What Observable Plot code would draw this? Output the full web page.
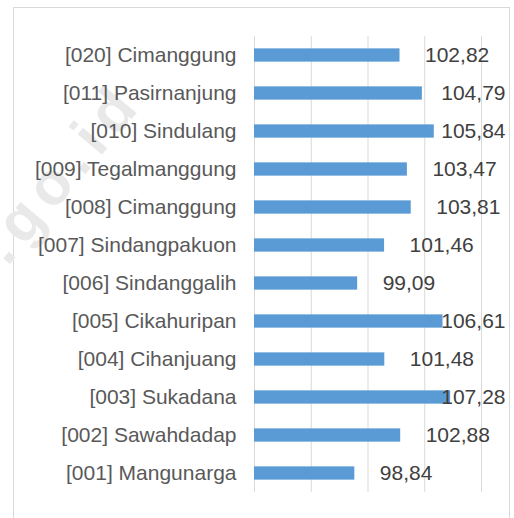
<!DOCTYPE html>
<html>
<head>
<meta charset="utf-8">
<script src="https://cdn.jsdelivr.net/npm/d3@7"></script>
<script src="https://cdn.jsdelivr.net/npm/@observablehq/plot@0.6"></script>
<style>
  html, body { margin: 0; padding: 0; background: #fff; }
  #wrap { position: relative; width: 514px; height: 518px; overflow: hidden; }
  #frame { position: absolute; left: 13px; top: 7px; width: 497px; height: 520px; border: 1px solid #d9d9d9; box-sizing: border-box; }
  #chart { position: absolute; left: 0; top: 0; }
  svg { font-family: "Liberation Sans", Arial, sans-serif; }
</style>
</head>
<body>
<div id="wrap"><div id="frame"></div><div id="chart"></div></div>
<script>
const categories = [
  "[020] Cimanggung",
  "[011] Pasirnanjung",
  "[010] Sindulang",
  "[009] Tegalmanggung",
  "[008] Cimanggung",
  "[007] Sindangpakuon",
  "[006] Sindanggalih",
  "[005] Cikahuripan",
  "[004] Cihanjuang",
  "[003] Sukadana",
  "[002] Sawahdadap",
  "[001] Mangunarga"
];
const values = [102.82, 104.79, 105.84, 103.47, 103.81, 101.46, 99.09, 106.61, 101.48, 107.28, 102.88, 98.84];
const xTicks = [90, 95, 100, 105, 110];
const watermarkText = "bps.go.id";

const data = categories.map((c, i) => ({name: c, value: values[i]}));
const fmt = v => v.toFixed(2).replace(".", ",");

const chart = Plot.plot({
  width: 514,
  height: 518,
  marginLeft: 254,
  marginRight: 33,
  marginTop: 36,
  marginBottom: 26,
  style: {fontSize: "21px", color: "#595959", background: "transparent", overflow: "visible"},
  x: {domain: [90, 110], axis: null},
  y: {domain: categories, paddingInner: 0.65, paddingOuter: 0.325, round: false, axis: null, label: null},
  marks: [
    Plot.ruleX(xTicks, {stroke: "#d9d9d9", strokeWidth: 1, strokeOpacity: 1}),
    Plot.barX(data, {y: "name", x1: xTicks[0], x2: "value", fill: "#5b9bd5"}),
    Plot.axisY({tickSize: 0, tickPadding: 18, fontSize: 21, fill: "#595959", label: null}),
    Plot.text(data, {y: "name", x: "value", text: d => fmt(d.value), textAnchor: "start", fill: "#404040", fontSize: 21})
  ]
});
document.getElementById("chart").append(chart);

// place value labels outside bar end, clamped inside chart area
const xScale = chart.scale("x");
const yScale = chart.scale("y");
chart.querySelectorAll('g[aria-label="text"] text').forEach((t, i) => {
  const d = data[i];
  const bx = xScale.apply(d.value);
  const cy = yScale.apply(d.name) + yScale.bandwidth / 2;
  const w = t.getComputedTextLength();
  let nx = bx + 25;
  if (nx + w > 505) nx = 505 - w;
  t.removeAttribute("x");
  t.removeAttribute("y");
  t.setAttribute("transform", `translate(${nx},${cy})`);
});

// faint watermark
const ns = "http://www.w3.org/2000/svg";
const wm = document.createElementNS(ns, "text");
wm.textContent = watermarkText;
wm.setAttribute("transform", "translate(145,103) rotate(-50)");
wm.setAttribute("text-anchor", "end");
wm.setAttribute("font-size", "60");
wm.setAttribute("letter-spacing", "9");
wm.setAttribute("font-weight", "bold");
wm.setAttribute("fill", "#e9e9e9");
chart.insertBefore(wm, chart.firstChild.nextSibling);
</script>
</body>
</html>
